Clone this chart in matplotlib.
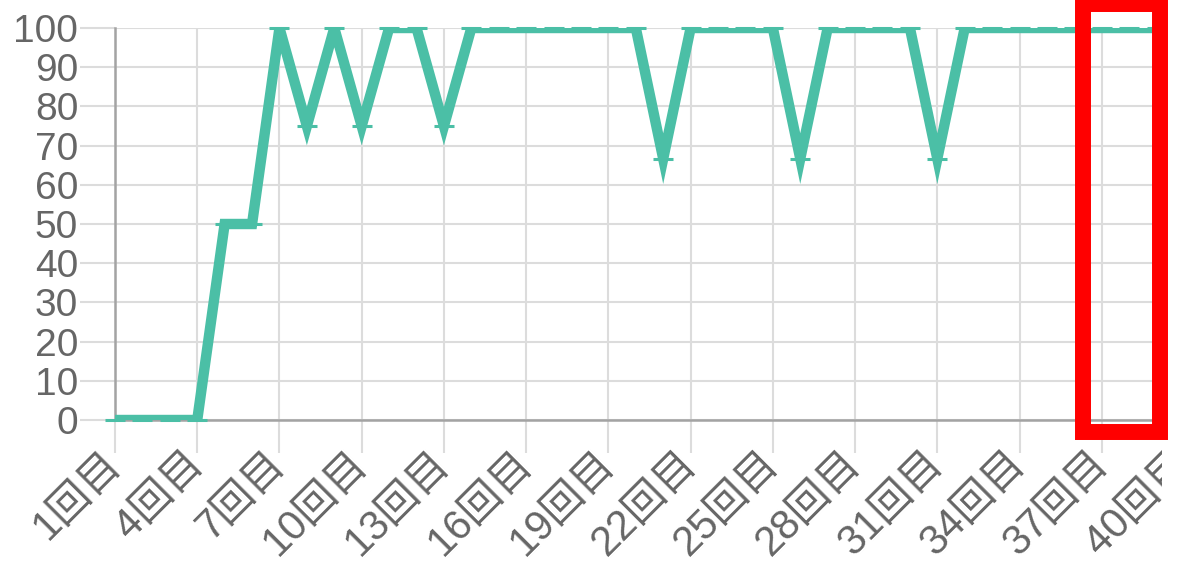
import matplotlib
matplotlib.use('Agg')
import matplotlib.pyplot as plt
from matplotlib.patches import Rectangle

plt.rcParams['font.family'] = ['Liberation Sans', 'Noto Sans CJK JP']

# 回ごとのスコア
rounds = list(range(1, 41))
labels = [f'{i}回目' for i in rounds]
scores = [0, 0, 0, 0, 50, 50, 100, 75, 100, 75,
          100, 100, 75, 100, 100, 100, 100, 100, 100, 100,
          66.67, 100, 100, 100, 100, 66.67, 100, 100, 100, 100,
          66.67, 100, 100, 100, 100, 100, 100, 100, 100, 100]
y_ticks = list(range(0, 101, 10))
x_ticks = rounds[::3]

LINE = '#4bbfa6'
GRID = '#dcdcdc'
AXIS = '#a3a3a3'
TEXT = '#666666'

W, H = 1178, 563
fig = plt.figure(figsize=(W / 100, H / 100), dpi=100)


def px(x0, y0, x1, y1):
    """ピクセル座標 (左上原点) -> figure 座標 [left, bottom, width, height]"""
    return [x0 / W, 1 - y1 / H, (x1 - x0) / W, (y1 - y0) / H]


# 右端の 40回目 は画面外まではみ出す
ax = fig.add_axes(px(115, 28, 1184, 420))
ax.set_xlim(1, 40)
ax.set_ylim(0, 100)

ax.plot(rounds, scores, color=LINE, lw=7.5, solid_joinstyle='miter',
        solid_capstyle='butt', zorder=3)
ax.plot(rounds, scores, ls='none', marker='_', ms=14, mew=2.2,
        color=LINE, clip_on=False, zorder=4)

ax.set_xticks(x_ticks)
ax.set_xticklabels([labels[i - 1] for i in x_ticks], rotation=45,
                   ha='right', va='center', rotation_mode='anchor')
ax.set_yticks(y_ticks)

ax.grid(True, color=GRID, lw=1.5)
ax.set_axisbelow(True)
ax.tick_params(axis='y', length=25, width=1.5, color=GRID, pad=1.5,
               labelsize=28, labelcolor=TEXT)
ax.tick_params(axis='x', length=24, width=1.5, color=GRID, pad=3,
               labelsize=30, labelcolor=TEXT)
ax.xaxis.get_major_ticks()[0].tick1line.set_color(AXIS)
ax.yaxis.get_major_ticks()[0].tick1line.set_color(AXIS)

for side in ('top', 'right'):
    ax.spines[side].set_visible(False)
for side in ('left', 'bottom'):
    ax.spines[side].set_color(AXIS)
    ax.spines[side].set_linewidth(1.8)

# 右端の切れ目と赤枠
fig.patches.append(Rectangle((px(1162, 0, W, H)[0], 0), 16 / W, 1,
                             transform=fig.transFigure, facecolor='white',
                             edgecolor='none', zorder=10))
b = px(1083, 4, 1160, 432)
fig.patches.append(Rectangle((b[0], b[1]), b[2], b[3],
                             transform=fig.transFigure, fill=False,
                             edgecolor='#ff0000', lw=11.5, zorder=11))

fig.savefig('out.png', dpi=100, facecolor='white')
